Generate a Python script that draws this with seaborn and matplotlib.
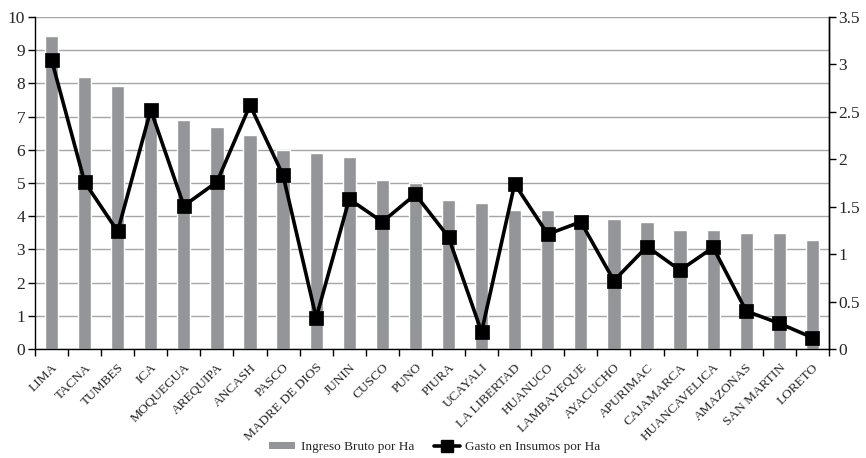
import numpy as np
import pandas as pd
import matplotlib
matplotlib.use("Agg")
import matplotlib.pyplot as plt
from matplotlib.lines import Line2D
from matplotlib.patches import Patch
from matplotlib.ticker import FuncFormatter
import seaborn as sns

regiones = ["LIMA", "TACNA", "TUMBES", "ICA", "MOQUEGUA", "AREQUIPA", "ANCASH",
            "PASCO", "MADRE DE DIOS", "JUNIN", "CUSCO", "PUNO", "PIURA", "UCAYALI",
            "LA LIBERTAD", "HUANUCO", "LAMBAYEQUE", "AYACUCHO", "APURIMAC",
            "CAJAMARCA", "HUANCAVELICA", "AMAZONAS", "SAN MARTIN", "LORETO"]
ingreso_bruto = [9.44, 8.20, 7.93, 7.10, 6.91, 6.70, 6.43, 5.99, 5.91, 5.79,
                 5.10, 5.01, 4.50, 4.41, 4.20, 4.20, 3.96, 3.93, 3.81, 3.59,
                 3.59, 3.50, 3.50, 3.29]
gasto_insumos = [3.05, 1.76, 1.24, 2.52, 1.51, 1.76, 2.57, 1.83, 0.33, 1.58,
                 1.34, 1.63, 1.18, 0.18, 1.74, 1.21, 1.34, 0.72, 1.08, 0.83,
                 1.07, 0.40, 0.27, 0.12]
left_ticks = list(range(0, 11))
right_ticks = [0, 0.5, 1, 1.5, 2, 2.5, 3, 3.5]
serie_barras = "Ingreso Bruto por Ha"
serie_linea = "Gasto en Insumos por Ha"

df = pd.DataFrame({"region": regiones, "ingreso": ingreso_bruto, "gasto": gasto_insumos})

sns.set_theme(style="white")
plt.rcParams["font.family"] = ["Liberation Serif", "DejaVu Serif"]

bar_color = "#939598"
grid_color = "#a6a6a6"

fig = plt.figure(figsize=(8.66, 4.58), dpi=100)
ax = fig.add_axes([0.0404, 0.238, 0.9168, 0.725])

sns.barplot(data=df, x="region", y="ingreso", color=bar_color, saturation=1,
            width=0.4, order=regiones, ax=ax, zorder=2)

ax.set_ylim(0, 10)
ax.set_xlim(-0.5, len(regiones) - 0.5)
ax.set_yticks(left_ticks)
ax.yaxis.set_major_formatter(FuncFormatter(lambda v, p: f"{v:g}"))
ax.yaxis.grid(True, color=grid_color, linewidth=1.0, zorder=0)
ax.set_axisbelow(True)
ax.set_xlabel("")
ax.set_ylabel("")

# category labels at bar centres, tick marks at category boundaries
ax.set_xticks(np.arange(len(regiones)))
ax.set_xticklabels(regiones, rotation=45, ha="right", rotation_mode="anchor",
                   fontsize=9.6)
ax.set_xticks(np.arange(len(regiones) + 1) - 0.5, minor=True)
ax.tick_params(axis="x", which="major", length=0, pad=9)
ax.tick_params(axis="x", which="minor", length=5, width=1, color="black",
               direction="out", bottom=True)
ax.tick_params(axis="y", length=5, width=1, color="black", direction="out",
               left=True, labelsize=12.5, pad=2)

for side in ["left", "right", "bottom"]:
    ax.spines[side].set_visible(True)
    ax.spines[side].set_color("black")
    ax.spines[side].set_linewidth(1.0)
ax.spines["top"].set_visible(False)

ax2 = ax.twinx()
sns.pointplot(data=df, x="region", y="gasto", order=regiones, color="black",
              markers="s", markersize=9, linewidth=2.6, ax=ax2, zorder=5)
ax2.set_ylim(0, 3.5)
ax2.set_xlim(-0.5, len(regiones) - 0.5)
ax2.set_yticks(right_ticks)
ax2.yaxis.set_major_formatter(FuncFormatter(lambda v, p: f"{v:g}"))
ax2.set_ylabel("")
ax2.set_xlabel("")
ax2.tick_params(axis="y", length=5, width=1, color="black", direction="out",
                right=True, labelsize=12.5, pad=2)
ax2.tick_params(axis="x", which="both", length=0, labelbottom=False)
ax2.grid(False)
for side in ["left", "top", "bottom"]:
    ax2.spines[side].set_visible(False)
ax2.spines["right"].set_visible(True)
ax2.spines["right"].set_color("black")
ax2.spines["right"].set_linewidth(1.0)

handles = [Patch(facecolor=bar_color, edgecolor="none", label=serie_barras),
           Line2D([0], [0], color="black", linewidth=2.6, marker="s",
                  markersize=8, label=serie_linea)]
fig.legend(handles=handles, loc="center", bbox_to_anchor=(0.502, 0.024),
           ncol=2, frameon=False, fontsize=9.5, handlelength=2.0,
           handleheight=0.5, columnspacing=1.5, handletextpad=0.4)

fig.savefig("out.png", dpi=100)
